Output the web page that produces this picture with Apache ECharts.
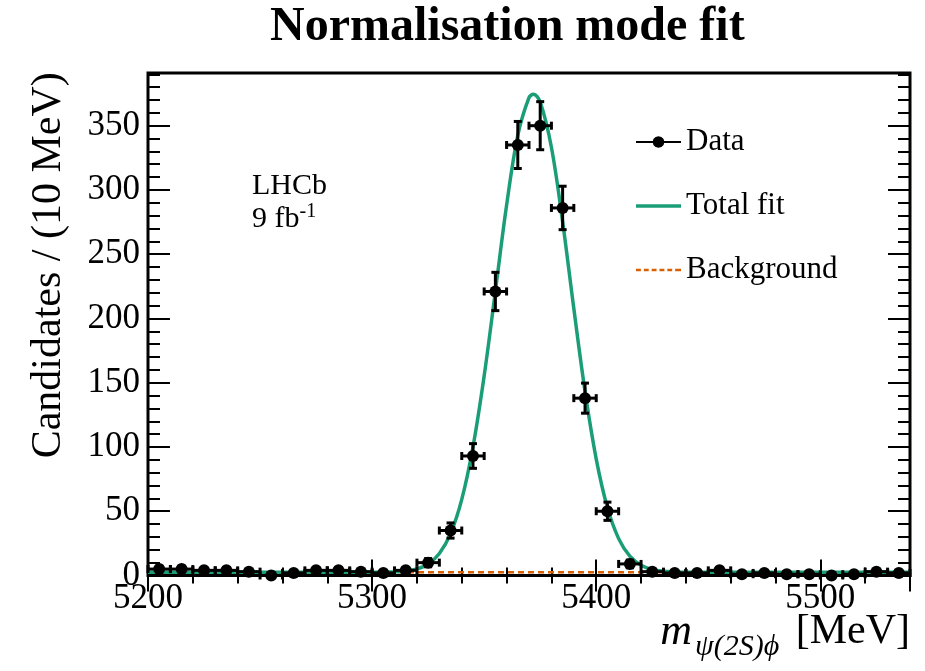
<!DOCTYPE html>
<html><head><meta charset="utf-8">
<script src="https://cdn.jsdelivr.net/npm/echarts@6/dist/echarts.min.js"></script>
<style>html,body{margin:0;padding:0;background:#fff}#c{width:925px;height:671px}</style>
</head><body><div id="c"></div>
<script>
// ---- data ----
const binCenters = [5205,5215,5225,5235,5245,5255,5265,5275,5285,5295,5305,5315,5325,5335,5345,5355,5365,5375,5385,5395,5405,5415,5425,5435,5445,5455,5465,5475,5485,5495,5505,5515,5525,5535];
const counts = [5,5,4,4,3,0,2,4,4,3,2,4,10,35,93,221,335,350,286,138,50,9,3,2,2,4,1,2,1,1,0,1,3,2];
const countErrors = [2.2,2.2,2,2,1.7,0,1.4,2,2,1.7,1.4,2,3.2,5.9,9.6,14.9,18.3,18.7,16.9,11.7,7.1,3,1.7,1.4,1.4,2,1,1.4,1,1,0,1,1.7,1.4];
const binHalfWidth = 5;
const fitX = [5200,5220,5240,5260,5280,5300,5305,5310,5315,5320,5325,5330,5335,5340,5345,5350,5355,5360,5365,5370,5372,5375,5380,5385,5390,5395,5400,5405,5410,5415,5420,5425,5430,5435,5440,5460,5480,5500,5520,5540];
const fitY = [2.5,2.5,2.5,2.5,2.5,2.5,2.6,2.8,3.5,5.1,8.9,17.1,32.6,59.2,100,155.4,221.2,288.1,342.5,371.8,374.5,368.4,333.2,275.3,207.7,143.3,90.6,52.8,28.7,15,7.9,4.6,3.3,2.8,2.6,2.5,2.5,2.5,2.5,2.5];
const bkgX = [5200, 5540];
const bkgY = [2.5, 2.5];
const xTickLabels = [5200, 5300, 5400, 5500];
const yTickLabels = [0, 50, 100, 150, 200, 250, 300, 350];

const FONT = '"Liberation Serif", "Times New Roman", serif';
const GREEN = '#1b9e77', ORANGE = '#d95f02';

const chart = echarts.init(document.getElementById('c'), null, {renderer: 'canvas'});

function xAxisDef(pos, interval, len, labels) {
  return {
    type: 'value', min: 5200, max: 5540, interval: interval, position: pos,
    axisLine: {show: false}, splitLine: {show: false},
    axisTick: {show: true, inside: true, length: len, lineStyle: {color: '#000', width: 2}},
    axisLabel: labels ? {
      show: true, fontSize: 35, color: '#000', fontFamily: FONT, margin: 6,
      formatter: v => xTickLabels.indexOf(v) >= 0 ? String(v) : ''
    } : {show: false}
  };
}
function yAxisDef(pos, interval, len, labels, extra) {
  return Object.assign({
    type: 'value', min: 0, max: 391, interval: interval, position: pos,
    axisLine: {show: false}, splitLine: {show: false},
    axisTick: {show: true, inside: true, length: len, lineStyle: {color: '#000', width: 2}},
    axisLabel: labels ? {
      show: true, fontSize: 35, color: '#000', fontFamily: FONT, margin: 8,
      formatter: v => yTickLabels.indexOf(v) >= 0 ? String(v) : ''
    } : {show: false}
  }, extra || {});
}

const option = {
  animation: false,
  backgroundColor: '#fff',
  title: {
    text: 'Normalisation mode fit', left: 270, top: 4, padding: 0,
    textStyle: {fontFamily: FONT, fontWeight: 'bold', fontSize: 48, color: '#000'}
  },
  grid: {left: 148, right: 15, top: 73, bottom: 95.5, outerBoundsMode: 'none', containLabel: false,
         show: true, borderColor: '#000', borderWidth: 3, backgroundColor: 'transparent'},
  xAxis: [
    xAxisDef('bottom', 100, 16, true),
    xAxisDef('bottom', 20, 8, false),
    xAxisDef('top', 100, 16, false),
    xAxisDef('top', 20, 8, false)
  ],
  yAxis: [
    yAxisDef('left', 50, 22, true, {
      name: 'Candidates / (10 MeV)', nameLocation: 'middle', nameGap: 78,
      nameTextStyle: {fontFamily: FONT, fontSize: 42, color: '#000', padding: [0, 0, 0, 118]}
    }),
    yAxisDef('left', 10, 12, false),
    yAxisDef('right', 50, 22, false),
    yAxisDef('right', 10, 12, false)
  ],
  legend: {
    orient: 'vertical', left: 631, top: 120, itemWidth: 45, itemHeight: 12, itemGap: 30,
    textStyle: {fontFamily: FONT, fontSize: 31, color: '#000', lineHeight: 34},
    data: [
      {name: 'Data', icon: 'path://M0,5 L46,5 L46,7 L0,7 Z M29,6 L28.2,9 L26,11.2 L23,12 L20,11.2 L17.8,9 L17,6 L17.8,3 L20,0.8 L23,0 L26,0.8 L28.2,3 Z'},
      {name: 'Total fit', icon: 'path://M0,4.3 L46,4.3 L46,7.7 L0,7.7 Z'},
      {name: 'Background', icon: 'path://M0,4.8 L5,4.8 L5,7.2 L0,7.2 Z M8,4.8 L13,4.8 L13,7.2 L8,7.2 Z M16,4.8 L21,4.8 L21,7.2 L16,7.2 Z M24,4.8 L29,4.8 L29,7.2 L24,7.2 Z M32,4.8 L37,4.8 L37,7.2 L32,7.2 Z M40,4.8 L46,4.8 L46,7.2 L40,7.2 Z M0,0 L0.01,0 L0.01,12 L0,12 Z'}
    ]
  },
  graphic: [
    {type: 'text', left: 252, top: 171, style: {text: 'LHCb', fontFamily: FONT, fontSize: 30, fill: '#000'}},
    {type: 'text', left: 252, top: 202, style: {
      text: '9 fb{sup|-1}', fontFamily: FONT, fontSize: 30, fill: '#000',
      rich: {sup: {fontFamily: FONT, fontSize: 20, fill: '#000', padding: [0, 0, 14, 0]}}
    }},
    {type: 'text', right: 15, top: 610, style: {
      text: '{m|m}{sub|ψ(2S)ϕ} [MeV]', fontFamily: FONT, fontSize: 42, fill: '#000',
      rich: {
        m: {fontFamily: FONT, fontStyle: 'italic', fontSize: 44, fill: '#000'},
        sub: {fontFamily: FONT, fontStyle: 'italic', fontSize: 30, fill: '#000', padding: [30, 6, 0, 3]}
      }
    }}
  ],
  series: [
    {
      name: 'Background', type: 'line', xAxisIndex: 0, yAxisIndex: 0, z: 2,
      data: bkgX.map((x, i) => [x, bkgY[i]]), showSymbol: false, symbol: 'none',
      lineStyle: {color: ORANGE, width: 2.5, type: [6, 4]}, itemStyle: {color: ORANGE}
    },
    {
      name: 'Total fit', type: 'line', xAxisIndex: 0, yAxisIndex: 0, z: 3,
      data: fitX.map((x, i) => [x, fitY[i]]), showSymbol: false, symbol: 'none', smooth: 0.35,
      lineStyle: {color: GREEN, width: 3.5}, itemStyle: {color: GREEN}
    },
    {
      name: 'Data', type: 'custom', xAxisIndex: 0, yAxisIndex: 0, z: 4, clip: false,
      itemStyle: {color: '#000'},
      encode: {x: 0, y: 1},
      data: binCenters.map((x, i) => [x, counts[i], countErrors[i]]),
      renderItem: function (params, api) {
        const x = api.value(0), y = api.value(1), e = api.value(2);
        const c = api.coord([x, y]);
        const l = api.coord([x - binHalfWidth, y]);
        const r = api.coord([x + binHalfWidth, y]);
        const t = api.coord([x, y + e]);
        const b = api.coord([x, Math.max(y - e, 0)]);
        const st = {stroke: '#000', lineWidth: 3};
        const cap = 4;
        const ch = [
          {type: 'line', shape: {x1: l[0], y1: c[1], x2: r[0], y2: c[1]}, style: st},
          {type: 'line', shape: {x1: l[0], y1: c[1] - cap, x2: l[0], y2: c[1] + cap}, style: st},
          {type: 'line', shape: {x1: r[0], y1: c[1] - cap, x2: r[0], y2: c[1] + cap}, style: st}
        ];
        if (e > 0) {
          ch.push({type: 'line', shape: {x1: c[0], y1: t[1], x2: c[0], y2: b[1]}, style: st});
          ch.push({type: 'line', shape: {x1: c[0] - cap, y1: t[1], x2: c[0] + cap, y2: t[1]}, style: st});
          ch.push({type: 'line', shape: {x1: c[0] - cap, y1: b[1], x2: c[0] + cap, y2: b[1]}, style: st});
        }
        ch.push({type: 'circle', shape: {cx: c[0], cy: c[1], r: 6}, style: {fill: '#000'}});
        return {type: 'group', children: ch};
      }
    }
  ]
};
chart.setOption(option);
</script>
</body></html>
